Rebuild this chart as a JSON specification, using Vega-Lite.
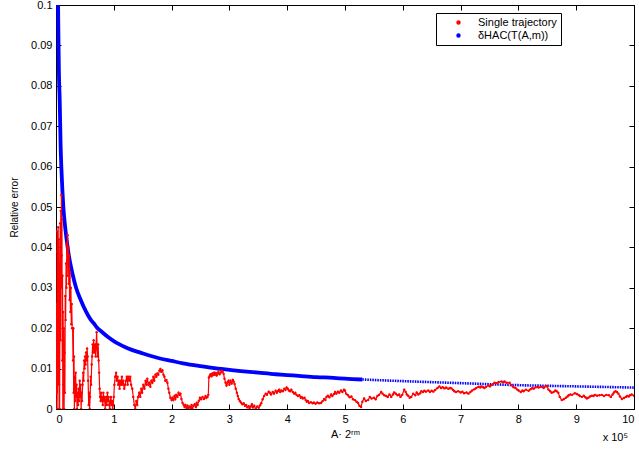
{
"$schema":"https://vega.github.io/schema/vega-lite/v6.json",
"width":578,"height":404,"autosize":"none",
"padding":{"left":56,"top":5,"right":5,"bottom":41},
"background":"white",
"config":{
 "font":"Liberation Sans",
 "view":{"stroke":"#000","strokeWidth":1},
 "axis":{"grid":false,"domain":false,"tickColor":"#000","tickSize":-5,"tickWidth":1,"labelColor":"#000","labelFontSize":11,"labelPadding":9,"titleFontSize":10,"titleFontWeight":"normal","titleColor":"#000"}
},
"datasets":{
"hac":[{"x":0.036,"y":0.1},{"x":0.04,"y":0.0945},{"x":0.05,"y":0.0836},{"x":0.064,"y":0.0765},{"x":0.08,"y":0.0651},{"x":0.092,"y":0.06},{"x":0.11,"y":0.0543},{"x":0.127,"y":0.05},{"x":0.15,"y":0.0462},{"x":0.185,"y":0.0418},{"x":0.22,"y":0.0382},{"x":0.283,"y":0.0336},{"x":0.35,"y":0.0299},{"x":0.428,"y":0.027},{"x":0.52,"y":0.0241},{"x":0.6,"y":0.0221},{"x":0.66,"y":0.0211},{"x":0.7,"y":0.0203},{"x":0.8,"y":0.019},{"x":0.9,"y":0.0178},{"x":1.0,"y":0.0168},{"x":1.1,"y":0.016},{"x":1.2,"y":0.0153},{"x":1.3,"y":0.0147},{"x":1.47,"y":0.0139},{"x":1.6,"y":0.0133},{"x":1.8,"y":0.0125},{"x":2.0,"y":0.0119},{"x":2.2,"y":0.0113},{"x":2.5,"y":0.0106},{"x":2.8,"y":0.01},{"x":3.0,"y":0.0097},{"x":3.2,"y":0.0094},{"x":3.5,"y":0.009},{"x":3.8,"y":0.0086},{"x":4.0,"y":0.0084},{"x":4.2,"y":0.0082},{"x":4.5,"y":0.0079},{"x":4.8,"y":0.0077},{"x":5.0,"y":0.0075},{"x":5.3,"y":0.0073}],
"hac2":[{"x":5.3,"y":0.0073},{"x":6,"y":0.0069},{"x":7,"y":0.0064},{"x":8,"y":0.0059},{"x":9,"y":0.0056},{"x":10,"y":0.0053}],
"note":[{"x":10,"y":0,"t":"x 10⁵"}],
"traj":[{"x":0.003,"y":0.0},{"x":0.008,"y":0.026},{"x":0.013,"y":0.004},{"x":0.018,"y":0.044},{"x":0.023,"y":0.012},{"x":0.028,"y":0.039},{"x":0.033,"y":0.0},{"x":0.038,"y":0.045},{"x":0.043,"y":0.018},{"x":0.048,"y":0.042},{"x":0.053,"y":0.006},{"x":0.058,"y":0.036},{"x":0.063,"y":0.0},{"x":0.068,"y":0.028},{"x":0.073,"y":0.046},{"x":0.078,"y":0.017},{"x":0.083,"y":0.049},{"x":0.088,"y":0.03},{"x":0.093,"y":0.053},{"x":0.098,"y":0.038},{"x":0.103,"y":0.047},{"x":0.108,"y":0.012},{"x":0.113,"y":0.033},{"x":0.118,"y":0.0},{"x":0.123,"y":0.024},{"x":0.128,"y":0.006},{"x":0.135,"y":0.02},{"x":0.14,"y":0.0},{"x":0.147,"y":0.014},{"x":0.154,"y":0.004},{"x":0.16,"y":0.028},{"x":0.167,"y":0.022},{"x":0.174,"y":0.036},{"x":0.18,"y":0.03},{"x":0.187,"y":0.041},{"x":0.194,"y":0.033},{"x":0.2,"y":0.043},{"x":0.207,"y":0.036},{"x":0.214,"y":0.04},{"x":0.221,"y":0.031},{"x":0.228,"y":0.038},{"x":0.235,"y":0.027},{"x":0.243,"y":0.034},{"x":0.25,"y":0.024},{"x":0.258,"y":0.03},{"x":0.265,"y":0.021},{"x":0.272,"y":0.026},{"x":0.28,"y":0.02},{"x":0.287,"y":0.02},{"x":0.295,"y":0.012},{"x":0.3,"y":0.02},{"x":0.305,"y":0.004},{"x":0.312,"y":0.013},{"x":0.318,"y":0.0},{"x":0.325,"y":0.008},{"x":0.333,"y":0.002},{"x":0.34,"y":0.009},{"x":0.348,"y":0.003},{"x":0.356,"y":0.006},{"x":0.365,"y":0.0},{"x":0.373,"y":0.004},{"x":0.382,"y":0.001},{"x":0.39,"y":0.005},{"x":0.4,"y":0.002},{"x":0.41,"y":0.007},{"x":0.417,"y":0.003},{"x":0.425,"y":0.006},{"x":0.435,"y":0.0},{"x":0.443,"y":0.004},{"x":0.451,"y":0.002},{"x":0.46,"y":0.006},{"x":0.469,"y":0.009},{"x":0.478,"y":0.007},{"x":0.487,"y":0.012},{"x":0.495,"y":0.01},{"x":0.503,"y":0.013},{"x":0.512,"y":0.011},{"x":0.52,"y":0.014},{"x":0.53,"y":0.012},{"x":0.538,"y":0.015},{"x":0.547,"y":0.013},{"x":0.556,"y":0.007},{"x":0.565,"y":0.001},{"x":0.573,"y":0.004},{"x":0.582,"y":0.0},{"x":0.59,"y":0.003},{"x":0.6,"y":0.008},{"x":0.608,"y":0.006},{"x":0.617,"y":0.011},{"x":0.625,"y":0.013},{"x":0.634,"y":0.016},{"x":0.642,"y":0.014},{"x":0.651,"y":0.017},{"x":0.66,"y":0.015},{"x":0.668,"y":0.014},{"x":0.677,"y":0.016},{"x":0.686,"y":0.013},{"x":0.694,"y":0.016},{"x":0.703,"y":0.019},{"x":0.712,"y":0.015},{"x":0.72,"y":0.013},{"x":0.729,"y":0.016},{"x":0.738,"y":0.012},{"x":0.746,"y":0.009},{"x":0.755,"y":0.005},{"x":0.764,"y":0.003},{"x":0.773,"y":0.002},{"x":0.78,"y":0.004},{"x":0.79,"y":0.002},{"x":0.8,"y":0.003},{"x":0.81,"y":0.001},{"x":0.82,"y":0.004},{"x":0.83,"y":0.002},{"x":0.84,"y":0.003},{"x":0.851,"y":0.0},{"x":0.86,"y":0.002},{"x":0.87,"y":0.003},{"x":0.88,"y":0.001},{"x":0.89,"y":0.004},{"x":0.9,"y":0.002},{"x":0.91,"y":0.003},{"x":0.92,"y":0.001},{"x":0.93,"y":0.0},{"x":0.94,"y":0.002},{"x":0.95,"y":0.003},{"x":0.96,"y":0.001},{"x":0.97,"y":0.002},{"x":0.98,"y":0.0},{"x":0.99,"y":0.001},{"x":1.0,"y":0.003},{"x":1.01,"y":0.006},{"x":1.024,"y":0.008},{"x":1.04,"y":0.009},{"x":1.05,"y":0.007},{"x":1.065,"y":0.008},{"x":1.076,"y":0.006},{"x":1.09,"y":0.007},{"x":1.1,"y":0.005},{"x":1.111,"y":0.007},{"x":1.125,"y":0.006},{"x":1.14,"y":0.008},{"x":1.15,"y":0.006},{"x":1.165,"y":0.007},{"x":1.18,"y":0.005},{"x":1.198,"y":0.006},{"x":1.21,"y":0.007},{"x":1.225,"y":0.008},{"x":1.24,"y":0.006},{"x":1.25,"y":0.008},{"x":1.27,"y":0.007},{"x":1.285,"y":0.008},{"x":1.3,"y":0.006},{"x":1.32,"y":0.005},{"x":1.337,"y":0.003},{"x":1.355,"y":0.001},{"x":1.372,"y":0.0},{"x":1.39,"y":0.002},{"x":1.406,"y":0.001},{"x":1.42,"y":0.003},{"x":1.44,"y":0.004},{"x":1.458,"y":0.003},{"x":1.475,"y":0.005},{"x":1.49,"y":0.004},{"x":1.51,"y":0.006},{"x":1.53,"y":0.005},{"x":1.55,"y":0.007},{"x":1.565,"y":0.006},{"x":1.58,"y":0.0075},{"x":1.6,"y":0.006},{"x":1.615,"y":0.0065},{"x":1.632,"y":0.0055},{"x":1.65,"y":0.007},{"x":1.668,"y":0.0065},{"x":1.684,"y":0.008},{"x":1.7,"y":0.007},{"x":1.72,"y":0.0085},{"x":1.736,"y":0.008},{"x":1.753,"y":0.0088},{"x":1.77,"y":0.0085},{"x":1.79,"y":0.0095},{"x":1.806,"y":0.0099},{"x":1.82,"y":0.0092},{"x":1.84,"y":0.0096},{"x":1.86,"y":0.0085},{"x":1.875,"y":0.008},{"x":1.892,"y":0.007},{"x":1.91,"y":0.0072},{"x":1.927,"y":0.0065},{"x":1.945,"y":0.005},{"x":1.96,"y":0.004},{"x":1.979,"y":0.0028},{"x":2.0,"y":0.0022},{"x":2.015,"y":0.0028},{"x":2.031,"y":0.0022},{"x":2.05,"y":0.0032},{"x":2.065,"y":0.0025},{"x":2.08,"y":0.0035},{"x":2.1,"y":0.003},{"x":2.12,"y":0.004},{"x":2.135,"y":0.0035},{"x":2.153,"y":0.0038},{"x":2.17,"y":0.0025},{"x":2.19,"y":0.0015},{"x":2.21,"y":0.001},{"x":2.225,"y":0.0005},{"x":2.24,"y":0.001},{"x":2.26,"y":0.0002},{"x":2.275,"y":0.0008},{"x":2.29,"y":0.0},{"x":2.31,"y":0.0006},{"x":2.33,"y":0.0002},{"x":2.345,"y":0.001},{"x":2.36,"y":0.0},{"x":2.38,"y":0.0008},{"x":2.4,"y":0.0012},{"x":2.42,"y":0.0005},{"x":2.435,"y":0.0015},{"x":2.45,"y":0.001},{"x":2.47,"y":0.002},{"x":2.49,"y":0.0028},{"x":2.51,"y":0.0024},{"x":2.535,"y":0.003},{"x":2.56,"y":0.0025},{"x":2.587,"y":0.0032},{"x":2.6,"y":0.0027},{"x":2.62,"y":0.003},{"x":2.635,"y":0.0035},{"x":2.645,"y":0.0078},{"x":2.66,"y":0.0082},{"x":2.674,"y":0.0086},{"x":2.69,"y":0.0081},{"x":2.705,"y":0.0088},{"x":2.72,"y":0.0084},{"x":2.735,"y":0.009},{"x":2.75,"y":0.0085},{"x":2.765,"y":0.0089},{"x":2.78,"y":0.0083},{"x":2.795,"y":0.0088},{"x":2.81,"y":0.0092},{"x":2.83,"y":0.0086},{"x":2.847,"y":0.009},{"x":2.865,"y":0.0095},{"x":2.882,"y":0.0092},{"x":2.9,"y":0.0087},{"x":2.915,"y":0.0075},{"x":2.934,"y":0.0065},{"x":2.95,"y":0.0058},{"x":2.97,"y":0.0066},{"x":2.986,"y":0.007},{"x":3.0,"y":0.006},{"x":3.02,"y":0.007},{"x":3.04,"y":0.0063},{"x":3.06,"y":0.0072},{"x":3.073,"y":0.0068},{"x":3.09,"y":0.0062},{"x":3.11,"y":0.005},{"x":3.13,"y":0.004},{"x":3.145,"y":0.0032},{"x":3.16,"y":0.0025},{"x":3.18,"y":0.002},{"x":3.2,"y":0.0016},{"x":3.225,"y":0.0012},{"x":3.247,"y":0.0014},{"x":3.27,"y":0.0008},{"x":3.29,"y":0.001},{"x":3.31,"y":0.0004},{"x":3.333,"y":0.0007},{"x":3.35,"y":0.0},{"x":3.37,"y":0.0006},{"x":3.39,"y":0.0012},{"x":3.41,"y":0.0004},{"x":3.43,"y":0.0008},{"x":3.455,"y":0.0},{"x":3.48,"y":0.0006},{"x":3.507,"y":0.0003},{"x":3.53,"y":0.0009},{"x":3.55,"y":0.0014},{"x":3.576,"y":0.0024},{"x":3.6,"y":0.0032},{"x":3.628,"y":0.0038},{"x":3.65,"y":0.0035},{"x":3.68,"y":0.0043},{"x":3.7,"y":0.004},{"x":3.72,"y":0.0036},{"x":3.75,"y":0.0042},{"x":3.77,"y":0.0038},{"x":3.8,"y":0.0045},{"x":3.82,"y":0.004},{"x":3.837,"y":0.0044},{"x":3.86,"y":0.0048},{"x":3.88,"y":0.0042},{"x":3.9,"y":0.0046},{"x":3.924,"y":0.0044},{"x":3.95,"y":0.005},{"x":3.97,"y":0.0047},{"x":3.99,"y":0.0053},{"x":4.01,"y":0.005},{"x":4.03,"y":0.0046},{"x":4.05,"y":0.0044},{"x":4.07,"y":0.0048},{"x":4.097,"y":0.0042},{"x":4.12,"y":0.0038},{"x":4.14,"y":0.004},{"x":4.16,"y":0.0035},{"x":4.184,"y":0.0032},{"x":4.21,"y":0.0034},{"x":4.235,"y":0.0028},{"x":4.25,"y":0.003},{"x":4.27,"y":0.0026},{"x":4.3,"y":0.0028},{"x":4.32,"y":0.0022},{"x":4.34,"y":0.0018},{"x":4.358,"y":0.002},{"x":4.38,"y":0.0015},{"x":4.41,"y":0.0017},{"x":4.44,"y":0.0014},{"x":4.462,"y":0.0016},{"x":4.49,"y":0.0013},{"x":4.52,"y":0.0016},{"x":4.55,"y":0.0014},{"x":4.583,"y":0.0015},{"x":4.61,"y":0.0019},{"x":4.64,"y":0.0025},{"x":4.66,"y":0.0022},{"x":4.68,"y":0.003},{"x":4.705,"y":0.0033},{"x":4.73,"y":0.0029},{"x":4.76,"y":0.0036},{"x":4.78,"y":0.0032},{"x":4.809,"y":0.0037},{"x":4.83,"y":0.0042},{"x":4.85,"y":0.0038},{"x":4.878,"y":0.0043},{"x":4.9,"y":0.004},{"x":4.93,"y":0.0046},{"x":4.955,"y":0.0042},{"x":4.983,"y":0.0048},{"x":5.0,"y":0.0045},{"x":5.02,"y":0.0038},{"x":5.052,"y":0.0034},{"x":5.08,"y":0.0029},{"x":5.11,"y":0.0031},{"x":5.139,"y":0.0024},{"x":5.17,"y":0.0022},{"x":5.2,"y":0.0018},{"x":5.226,"y":0.0015},{"x":5.25,"y":0.0008},{"x":5.278,"y":0.0005},{"x":5.3,"y":0.0018},{"x":5.33,"y":0.0026},{"x":5.36,"y":0.002},{"x":5.4,"y":0.0022},{"x":5.43,"y":0.003},{"x":5.46,"y":0.0026},{"x":5.503,"y":0.0028},{"x":5.53,"y":0.0024},{"x":5.56,"y":0.0032},{"x":5.59,"y":0.0035},{"x":5.625,"y":0.0042},{"x":5.65,"y":0.0038},{"x":5.68,"y":0.0034},{"x":5.712,"y":0.0032},{"x":5.74,"y":0.003},{"x":5.77,"y":0.0036},{"x":5.8,"y":0.003},{"x":5.83,"y":0.0036},{"x":5.85,"y":0.0041},{"x":5.88,"y":0.0038},{"x":5.91,"y":0.0034},{"x":5.937,"y":0.0036},{"x":5.96,"y":0.003},{"x":5.99,"y":0.0035},{"x":6.024,"y":0.0048},{"x":6.05,"y":0.0042},{"x":6.07,"y":0.0036},{"x":6.094,"y":0.0033},{"x":6.12,"y":0.0028},{"x":6.146,"y":0.003},{"x":6.18,"y":0.0038},{"x":6.215,"y":0.0034},{"x":6.24,"y":0.0041},{"x":6.267,"y":0.0036},{"x":6.3,"y":0.0039},{"x":6.32,"y":0.0044},{"x":6.35,"y":0.0042},{"x":6.372,"y":0.0045},{"x":6.4,"y":0.0043},{"x":6.44,"y":0.0046},{"x":6.47,"y":0.0042},{"x":6.5,"y":0.0045},{"x":6.528,"y":0.0043},{"x":6.56,"y":0.0047},{"x":6.6,"y":0.0052},{"x":6.632,"y":0.0056},{"x":6.66,"y":0.0052},{"x":6.69,"y":0.0054},{"x":6.72,"y":0.0051},{"x":6.75,"y":0.0053},{"x":6.788,"y":0.005},{"x":6.82,"y":0.0052},{"x":6.84,"y":0.0051},{"x":6.87,"y":0.0047},{"x":6.892,"y":0.0044},{"x":6.92,"y":0.0042},{"x":6.96,"y":0.0044},{"x":7.0,"y":0.0041},{"x":7.03,"y":0.0043},{"x":7.06,"y":0.0039},{"x":7.1,"y":0.0041},{"x":7.135,"y":0.0038},{"x":7.17,"y":0.0042},{"x":7.2,"y":0.0046},{"x":7.24,"y":0.0049},{"x":7.27,"y":0.0052},{"x":7.31,"y":0.0055},{"x":7.34,"y":0.0053},{"x":7.36,"y":0.0056},{"x":7.39,"y":0.0054},{"x":7.413,"y":0.0052},{"x":7.44,"y":0.0055},{"x":7.483,"y":0.0058},{"x":7.51,"y":0.0056},{"x":7.55,"y":0.006},{"x":7.587,"y":0.0065},{"x":7.62,"y":0.0064},{"x":7.66,"y":0.0067},{"x":7.708,"y":0.0068},{"x":7.74,"y":0.0066},{"x":7.76,"y":0.0068},{"x":7.8,"y":0.0065},{"x":7.847,"y":0.0065},{"x":7.88,"y":0.0059},{"x":7.917,"y":0.0054},{"x":7.95,"y":0.0052},{"x":7.98,"y":0.0048},{"x":8.003,"y":0.0046},{"x":8.04,"y":0.0042},{"x":8.07,"y":0.0046},{"x":8.09,"y":0.0044},{"x":8.13,"y":0.0048},{"x":8.177,"y":0.0045},{"x":8.21,"y":0.0049},{"x":8.24,"y":0.0052},{"x":8.264,"y":0.005},{"x":8.3,"y":0.0054},{"x":8.35,"y":0.0053},{"x":8.39,"y":0.0055},{"x":8.437,"y":0.0052},{"x":8.47,"y":0.0056},{"x":8.49,"y":0.0057},{"x":8.52,"y":0.0048},{"x":8.55,"y":0.0044},{"x":8.576,"y":0.004},{"x":8.61,"y":0.0042},{"x":8.64,"y":0.0046},{"x":8.663,"y":0.0044},{"x":8.69,"y":0.004},{"x":8.715,"y":0.003},{"x":8.75,"y":0.0022},{"x":8.785,"y":0.0024},{"x":8.82,"y":0.0028},{"x":8.85,"y":0.0031},{"x":8.87,"y":0.0034},{"x":8.9,"y":0.0036},{"x":8.93,"y":0.0035},{"x":8.976,"y":0.0039},{"x":9.01,"y":0.0037},{"x":9.04,"y":0.0035},{"x":9.062,"y":0.0032},{"x":9.1,"y":0.003},{"x":9.132,"y":0.0033},{"x":9.16,"y":0.0029},{"x":9.184,"y":0.0026},{"x":9.21,"y":0.0028},{"x":9.24,"y":0.0031},{"x":9.27,"y":0.0033},{"x":9.3,"y":0.0032},{"x":9.323,"y":0.0035},{"x":9.36,"y":0.0033},{"x":9.4,"y":0.0034},{"x":9.444,"y":0.0035},{"x":9.48,"y":0.0032},{"x":9.52,"y":0.0035},{"x":9.566,"y":0.0034},{"x":9.6,"y":0.003},{"x":9.63,"y":0.0036},{"x":9.653,"y":0.0041},{"x":9.68,"y":0.0044},{"x":9.705,"y":0.0042},{"x":9.73,"y":0.0038},{"x":9.757,"y":0.0031},{"x":9.79,"y":0.0025},{"x":9.826,"y":0.0027},{"x":9.86,"y":0.003},{"x":9.88,"y":0.0032},{"x":9.91,"y":0.0031},{"x":9.93,"y":0.0034},{"x":9.96,"y":0.0036},{"x":10.0,"y":0.0033}]
},
"layer":[
 {"data":{"name":"hac"},"mark":{"type":"line","strokeWidth":3.8,"clip":true,"interpolate":"monotone"},
  "encoding":{
   "x":{"field":"x","type":"quantitative","scale":{"domain":[0,10],"nice":false,"zero":false},"axis":{"orient":"bottom","values":[0,1,2,3,4,5,6,7,8,9,10],"format":"d","title":"A· 2ʳᵐ","titleFontSize":11,"titlePadding":4}},
   "y":{"field":"y","type":"quantitative","scale":{"domain":[0,0.1],"nice":false},"axis":{"orient":"left","values":[0,0.01,0.02,0.03,0.04,0.05,0.06,0.07,0.08,0.09,0.1],"format":"~g","title":"Relative error","titlePadding":11}},
   "color":{"datum":"δHAC(T(A,m))","type":"nominal","scale":{"domain":["Single trajectory","δHAC(T(A,m))"],"range":["#ff0000","#0000ff"]},
     "legend":{"title":null,"orient":"none","legendX":380,"legendY":8,"strokeColor":"#000","fillColor":"#fff","padding":4,"symbolType":"circle","symbolSize":6,"symbolStrokeWidth":2,"symbolOffset":13,"labelOffset":14,"labelFontSize":11,"labelColor":"#000","rowPadding":1}}
  }},
 {"data":{"name":"hac2"},"mark":{"type":"line","strokeWidth":2.6,"strokeDash":[1.5,1],"clip":true,"interpolate":"monotone"},
  "encoding":{
   "x":{"field":"x","type":"quantitative","axis":null},
   "y":{"field":"y","type":"quantitative","axis":null},
   "color":{"datum":"δHAC(T(A,m))","type":"nominal"}
  }},
 {"data":{"name":"traj"},"mark":{"type":"line","strokeWidth":1.2,"clip":true,"point":{"filled":true,"size":6}},
  "encoding":{
   "x":{"field":"x","type":"quantitative","axis":{"orient":"top","values":[0,1,2,3,4,5,6,7,8,9,10],"labels":false,"title":null}},
   "y":{"field":"y","type":"quantitative","axis":{"orient":"right","values":[0,0.01,0.02,0.03,0.04,0.05,0.06,0.07,0.08,0.09,0.1],"labels":false,"title":null}},
   "color":{"datum":"Single trajectory","type":"nominal"}
  }},
 {"data":{"name":"note"},"mark":{"type":"text","align":"right","baseline":"middle","dx":-6,"dy":29,"fontSize":11,"color":"#000"},
  "encoding":{
   "x":{"field":"x","type":"quantitative","axis":null},
   "y":{"field":"y","type":"quantitative","axis":null},
   "text":{"field":"t"}
  }}
],
"resolve":{"axis":{"x":"independent","y":"independent"}}
}
